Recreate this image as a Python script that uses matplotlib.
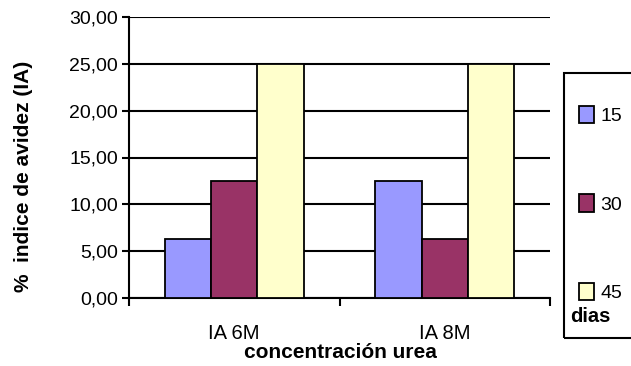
import matplotlib
matplotlib.use('Agg')
import matplotlib.pyplot as plt
from matplotlib.patches import Patch
import numpy as np

plt.rcParams['font.family'] = ['Liberation Sans', 'DejaVu Sans']

categories = ['IA 6M', 'IA 8M']
days = ['15', '30', '45']
values_15 = [6.25, 12.5]
values_30 = [12.5, 6.25]
values_45 = [25.0, 25.0]
yticks = [0, 5, 10, 15, 20, 25, 30]

colors = ['#9999FF', '#993366', '#FFFFCC']

fig = plt.figure(figsize=(6.31, 3.66), dpi=100)
ax = fig.add_axes([129 / 631, 1 - 298 / 366, 421 / 631, 281 / 366])

x = np.arange(len(categories))
width = 0.22
series = [values_15, values_30, values_45]
for i, vals in enumerate(series):
    ax.bar(x + (i - 1) * width, vals, width, color=colors[i],
           edgecolor='black', linewidth=1.3, zorder=3)

ax.set_xlim(-0.5, 1.5)
ax.set_ylim(0, 30)
ax.set_yticks(yticks)
ax.set_yticklabels([f'{v:.2f}'.replace('.', ',') for v in yticks], fontsize=14)
ax.yaxis.grid(True, color='black', linewidth=1.5, zorder=0)
ax.tick_params(axis='y', length=5, width=1.5, pad=3)

# category labels sit between the boundary ticks
ax.set_xticks(x)
ax.set_xticklabels(categories, fontsize=14.5)
ax.tick_params(axis='x', which='major', length=0, pad=19)
ax.set_xticks([-0.5, 0.5, 1.5], minor=True)
ax.tick_params(axis='x', which='minor', length=6, width=1.5)

for side in ['top', 'right']:
    ax.spines[side].set_visible(False)
for side in ['left', 'bottom']:
    ax.spines[side].set_linewidth(1.5)

fig.text(24 / 631, 1 - 176 / 366, '%  indice de avidez (IA)', rotation=90,
         ha='center', va='center', fontsize=15, fontweight='bold')
fig.text(340 / 631, 1 - 353 / 366, 'concentración urea',
         ha='center', va='center', fontsize=15, fontweight='bold')

# legend box on the right edge
box = plt.Rectangle((564 / 631, 1 - 338 / 366), 80 / 631, 265 / 366,
                    transform=fig.transFigure, fill=False,
                    edgecolor='black', linewidth=1.5)
fig.add_artist(box)
handles = [Patch(facecolor=c, edgecolor='black', linewidth=1.3) for c in colors]
leg = fig.legend(handles, days, loc='upper left',
                 bbox_to_anchor=(579 / 631, 1 - 106 / 366), frameon=False,
                 fontsize=14, labelspacing=3.55, handlelength=0.75,
                 handleheight=1.0, handletextpad=0.35, borderpad=0,
                 borderaxespad=0)
fig.text(570 / 631, 1 - 316 / 366, 'dias', ha='left', va='center',
         fontsize=14.5, fontweight='bold')

fig.savefig('out.png', dpi=100)
